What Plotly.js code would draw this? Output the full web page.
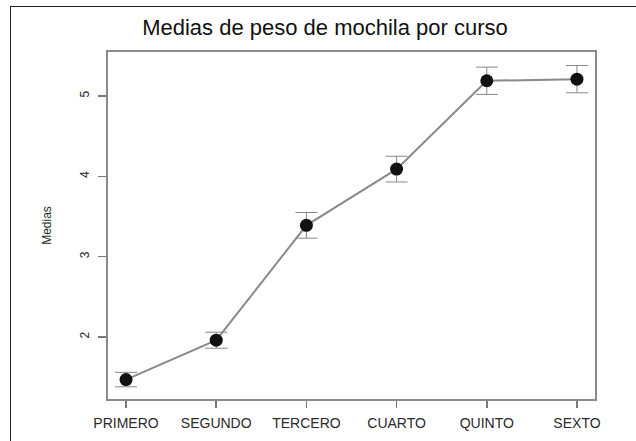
<!DOCTYPE html>
<html>
<head>
<meta charset="utf-8">
<script src="https://cdn.plot.ly/plotly-3.0.1.min.js"></script>
<style>
  html, body { margin: 0; padding: 0; background: #fff; }
  #frame { position: absolute; left: 10px; top: 6px; right: -4px; bottom: -4px;
           border-left: 1.5px solid #222; border-top: 1.5px solid #222; }
  #chart { position: absolute; left: 0; top: 0; width: 636px; height: 441px; }
</style>
</head>
<body>
<div id="frame"></div>
<div id="chart"></div>
<script>
// Mean backpack weight per school year, with error half-widths
const cursos = ["PRIMERO", "SEGUNDO", "TERCERO", "CUARTO", "QUINTO", "SEXTO"];
const medias = [1.47, 1.96, 3.39, 4.09, 5.19, 5.21];
const errores = [0.09, 0.10, 0.16, 0.16, 0.17, 0.17];
const yTicks = [2, 3, 4, 5];

const trace = {
  type: "scatter",
  mode: "lines+markers",
  x: cursos,
  y: medias,
  line: { color: "#8a8a8a", width: 2 },
  marker: { color: "#111", size: 13, symbol: "circle" },
  error_y: {
    type: "data",
    array: errores,
    visible: true,
    color: "#888",
    thickness: 1,
    width: 11
  },
  hoverinfo: "x+y"
};

const axisFont = { family: "Liberation Sans, Arial, sans-serif", color: "#2a2a2a" };

const layout = {
  width: 636,
  height: 441,
  paper_bgcolor: "rgba(0,0,0,0)",
  plot_bgcolor: "#fff",
  margin: { l: 108, r: 41, t: 52, b: 42 },
  showlegend: false,
  title: {
    text: "Medias de peso de mochila por curso",
    font: { family: "Liberation Sans, Arial, sans-serif", size: 22, color: "#111" },
    xref: "container",
    x: 0.511,
    xanchor: "center",
    yref: "container",
    y: 1 - 27 / 441,
    yanchor: "middle"
  },
  xaxis: {
    type: "category",
    range: [-0.2, 5.2],
    showgrid: false,
    zeroline: false,
    showline: true,
    mirror: true,
    linecolor: "#8a8a8a",
    linewidth: 2,
    ticks: "outside",
    ticklen: 7,
    tickwidth: 1.5,
    tickcolor: "#777",
    ticklabelstandoff: 3,
    tickfont: Object.assign({ size: 14 }, axisFont)
  },
  yaxis: {
    range: [1.228, 5.548],
    tickvals: yTicks,
    ticktext: yTicks.map(String),
    tickangle: -90,
    showgrid: false,
    zeroline: false,
    showline: true,
    mirror: true,
    linecolor: "#8a8a8a",
    linewidth: 2,
    ticks: "outside",
    ticklen: 8,
    tickwidth: 1.5,
    tickcolor: "#777",
    ticklabelstandoff: 4,
    tickfont: Object.assign({ size: 12 }, axisFont),
    title: {
      text: "Medias",
      font: Object.assign({ size: 12 }, axisFont),
      standoff: 24
    },
    automargin: true
  }
};

Plotly.newPlot("chart", [trace], layout, { displayModeBar: false, staticPlot: true });
</script>
</body>
</html>
